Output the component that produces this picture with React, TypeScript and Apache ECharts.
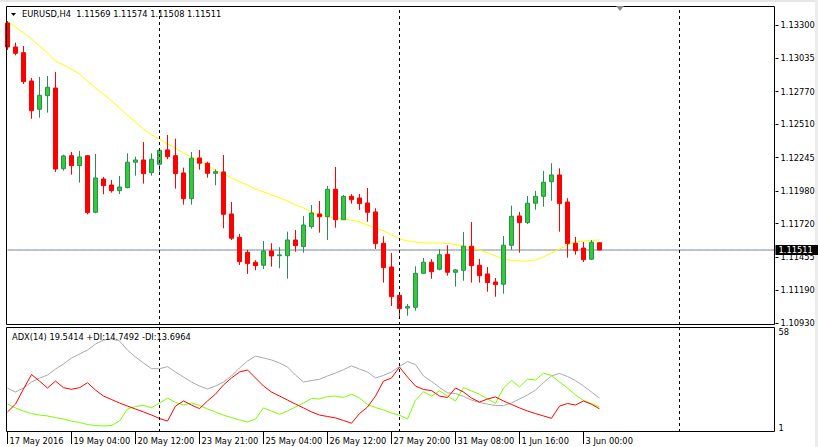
import React, { useEffect, useRef } from 'react';
import * as echarts from 'echarts';

const symbol = 'EURUSD';
const timeframe = 'H4';
const adxPeriod = 14;
const tickLabels = ['17 May 2016', '19 May 04:00', '20 May 12:00', '23 May 21:00', '25 May 04:00', '26 May 12:00', '27 May 20:00', '31 May 08:00', '1 Jun 16:00', '3 Jun 00:00'];
const barsPerTick = 8;
const totalSlots = 97;
const priceTicks = [1.133, 1.13035, 1.1277, 1.1251, 1.12245, 1.1198, 1.1172, 1.11455, 1.1119, 1.1093];
const adxTicks = [1, 58];
const separatorBars = [19, 49, 84];

const opens = [1.13316, 1.13125, 1.1308, 1.12855, 1.1263, 1.12738, 1.12799, 1.12158, 1.12261, 1.12182, 1.12261, 1.11811, 1.12076, 1.12028, 1.11983, 1.12007, 1.12209, 1.12227, 1.12126, 1.12193, 1.12307, 1.12261, 1.12124, 1.11919, 1.12243, 1.12201, 1.12121, 1.12132, 1.11798, 1.11612, 1.11493, 1.11414, 1.1139, 1.11504, 1.11466, 1.11466, 1.11591, 1.11538, 1.11697, 1.11798, 1.11776, 1.11994, 1.11752, 1.11938, 1.11925, 1.11885, 1.11814, 1.11565, 1.11376, 1.11151, 1.1105, 1.11056, 1.11326, 1.11414, 1.11358, 1.11477, 1.11334, 1.1135, 1.11541, 1.1139, 1.11321, 1.11257, 1.11239, 1.11549, 1.11782, 1.11729, 1.11883, 1.11938, 1.12054, 1.12108, 1.11893, 1.11565, 1.11527, 1.11438, 1.11569];
const highs = [1.13332, 1.1316, 1.13133, 1.12879, 1.12887, 1.12895, 1.12927, 1.12269, 1.12291, 1.12299, 1.12265, 1.12275, 1.12092, 1.12068, 1.121, 1.1228, 1.12253, 1.1237, 1.1228, 1.12317, 1.12426, 1.12396, 1.12166, 1.12291, 1.12307, 1.12213, 1.12153, 1.12267, 1.11893, 1.11639, 1.11512, 1.1143, 1.11583, 1.11565, 1.11533, 1.11657, 1.11671, 1.11782, 1.11869, 1.11901, 1.1202, 1.12171, 1.11949, 1.11955, 1.11957, 1.12004, 1.11843, 1.1162, 1.11488, 1.11155, 1.11082, 1.11382, 1.11448, 1.11438, 1.11517, 1.11549, 1.1136, 1.11655, 1.11734, 1.1144, 1.11376, 1.11289, 1.11623, 1.11864, 1.11814, 1.11941, 1.11981, 1.1214, 1.12201, 1.12161, 1.11923, 1.11615, 1.11575, 1.11591, 1.11574];
const lows = [1.13102, 1.13059, 1.12831, 1.12555, 1.12563, 1.12603, 1.12132, 1.12142, 1.1211, 1.12047, 1.11795, 1.11803, 1.11954, 1.11967, 1.11957, 1.12002, 1.12102, 1.12039, 1.12102, 1.12134, 1.12233, 1.11999, 1.11872, 1.11872, 1.1215, 1.12086, 1.12026, 1.11684, 1.11591, 1.11392, 1.11321, 1.1135, 1.1136, 1.11379, 1.11366, 1.11283, 1.11498, 1.1149, 1.11681, 1.11649, 1.11591, 1.11689, 1.1175, 1.1188, 1.1183, 1.11736, 1.11519, 1.11252, 1.11066, 1.10981, 1.10989, 1.11029, 1.11323, 1.11283, 1.1135, 1.11307, 1.1122, 1.11267, 1.11252, 1.11252, 1.1118, 1.1114, 1.11164, 1.11512, 1.1149, 1.11718, 1.11832, 1.11856, 1.11903, 1.11657, 1.1145, 1.11474, 1.11416, 1.11432, 1.11508];
const closes = [1.13125, 1.13075, 1.1285, 1.12619, 1.12741, 1.12805, 1.12155, 1.12259, 1.12182, 1.12251, 1.11808, 1.12084, 1.12023, 1.11983, 1.12012, 1.12209, 1.12227, 1.12118, 1.12233, 1.12304, 1.12253, 1.12118, 1.11919, 1.12241, 1.12201, 1.12121, 1.12134, 1.11795, 1.11605, 1.11418, 1.11403, 1.11387, 1.11504, 1.11464, 1.11472, 1.11591, 1.11546, 1.1171, 1.11806, 1.11776, 1.11994, 1.11752, 1.11938, 1.11911, 1.1188, 1.11811, 1.11562, 1.11371, 1.1114, 1.11045, 1.11061, 1.11326, 1.11414, 1.11339, 1.11474, 1.11334, 1.11353, 1.11541, 1.11387, 1.11307, 1.11252, 1.11236, 1.11549, 1.11779, 1.11729, 1.11883, 1.11938, 1.1205, 1.12108, 1.1188, 1.11562, 1.11506, 1.11434, 1.11573, 1.11511];
const movingAverage = [1.13328, 1.13284, 1.13237, 1.13189, 1.13133, 1.13078, 1.13014, 1.12982, 1.1295, 1.12911, 1.12855, 1.12799, 1.12752, 1.12696, 1.1264, 1.12581, 1.12529, 1.12473, 1.12426, 1.12394, 1.12354, 1.12322, 1.12283, 1.12251, 1.12219, 1.12187, 1.1214, 1.12116, 1.12084, 1.12052, 1.12028, 1.11996, 1.11973, 1.11949, 1.11925, 1.11901, 1.11869, 1.11845, 1.11814, 1.1179, 1.11774, 1.11766, 1.11758, 1.1175, 1.11734, 1.1171, 1.11686, 1.11663, 1.11631, 1.11599, 1.11583, 1.11575, 1.11567, 1.11567, 1.11567, 1.11563, 1.11555, 1.11543, 1.11527, 1.11512, 1.11488, 1.11464, 1.1144, 1.11428, 1.11424, 1.11424, 1.11432, 1.11456, 1.11488, 1.11519, 1.11551, 1.11575, 1.11583, 1.11587, 1.11591];
const adx = [25.1, 22.9, 25.1, 28.4, 30.6, 32.2, 35.5, 38.3, 41.6, 43.7, 45.9, 49.2, 51.4, 52.0, 50.9, 45.9, 42.1, 38.8, 35.7, 35.7, 36.8, 33.9, 31.1, 28.4, 26.2, 24.6, 26.2, 28.4, 31.7, 36.1, 39.9, 42.6, 41.6, 40.5, 38.8, 36.6, 32.2, 28.4, 29.2, 29.9, 31.7, 33.3, 35.2, 37.2, 35.5, 33.9, 30.6, 32.0, 33.9, 36.9, 39.6, 38.0, 31.7, 28.7, 25.4, 22.5, 22.1, 20.5, 18.5, 17.2, 16.3, 15.5, 15.5, 16.9, 19.1, 21.3, 24.0, 28.1, 31.7, 33.1, 31.4, 29.2, 26.2, 22.9, 19.5414];
const plusDI = [16.3, 14.2, 12.5, 11.1, 10.3, 9.8, 8.9, 8.1, 7.0, 6.2, 5.1, 4.5, 4.3, 4.6, 7.0, 13.6, 15.0, 15.6, 14.3, 16.9, 19.6, 17.2, 15.8, 16.9, 15.6, 13.6, 12.0, 10.2, 8.9, 7.6, 6.5, 8.1, 14.2, 12.5, 10.7, 12.5, 14.7, 16.9, 19.4, 19.1, 20.5, 20.7, 19.9, 21.7, 19.6, 16.1, 14.4, 13.1, 11.4, 10.2, 8.1, 18.5, 23.1, 20.7, 23.5, 20.7, 18.0, 25.3, 23.5, 21.7, 19.1, 16.7, 25.1, 29.3, 25.7, 30.0, 29.5, 33.2, 32.0, 28.4, 25.1, 21.3, 18.3, 16.6, 14.7492];
const minusDI = [12.0, 16.3, 24.6, 32.5, 28.9, 25.1, 28.9, 25.3, 24.4, 25.3, 28.0, 24.0, 20.7, 18.8, 16.9, 15.2, 13.6, 12.0, 10.3, 8.4, 7.0, 15.2, 18.0, 15.8, 13.8, 18.0, 21.8, 26.8, 30.6, 33.9, 35.0, 30.6, 26.2, 22.9, 20.7, 18.5, 16.3, 14.2, 12.0, 10.3, 9.5, 8.7, 7.3, 5.8, 11.1, 14.7, 20.7, 28.9, 30.6, 36.6, 31.1, 26.2, 24.3, 23.7, 20.7, 19.9, 25.1, 22.9, 19.6, 17.4, 19.1, 20.2, 18.0, 16.1, 14.2, 12.5, 11.1, 9.8, 8.5, 15.2, 16.6, 15.8, 18.0, 16.2, 13.6964];

export default function App() {
  const ref = useRef<HTMLDivElement>(null);
  useEffect(() => {
    const chart = echarts.init(ref.current as HTMLDivElement, null, { renderer: 'svg' });
    const font = 'DejaVu Sans';
    const fs = 8.3;
    const last = opens.length - 1;
    const lastPrice = closes[last];
    const categories = Array.from({ length: totalSlots }, (_, i) => String(i));
    const candles = opens.map((o, i) => [o, closes[i], lows[i], highs[i]]);
    const priceLine = categories.map(() => lastPrice);
    const header = `${symbol},${timeframe}\u00a0 ${[opens[last], highs[last], lows[last], closes[last]].map((v) => v.toFixed(5)).join(' ')}`;
    const adxHeader = `ADX(${adxPeriod}) ${adx[last].toFixed(4)} +DI:${plusDI[last].toFixed(4)} -DI:${minusDI[last].toFixed(4)}`;
    const isTick = (i: number) => i % barsPerTick === 0 && i / barsPerTick < tickLabels.length;
    const sepLines = separatorBars.map((b) => ({ xAxis: b }));
    const sepStyle = { color: '#000', type: [3, 3] as any, width: 1 };

    chart.setOption({
      animation: false,
      backgroundColor: '#fff',
      grid: [
        { left: 7.5, top: 6, width: 768, height: 319 },
        { left: 7.5, top: 328, width: 768, height: 104 },
      ],
      xAxis: [
        { type: 'category', gridIndex: 0, data: categories, boundaryGap: false, show: false },
        {
          type: 'category', gridIndex: 1, data: categories, boundaryGap: false,
          axisLine: { show: false },
          axisTick: { show: true, length: 12, interval: (i: number) => isTick(i), lineStyle: { color: '#000', width: 1 } },
          axisLabel: {
            interval: (i: number) => isTick(i),
            formatter: (_v: string, i: number) => (isTick(i) ? tickLabels[i / barsPerTick] : ''),
            align: 'left', verticalAlign: 'top', margin: 5, padding: [0, 0, 0, 2],
            color: '#000', fontFamily: font, fontSize: fs,
          },
          splitLine: { show: false },
        },
      ],
      yAxis: [
        {
          type: 'value', gridIndex: 0, position: 'right', min: 1.10915, max: 1.13451,
          splitLine: { show: false }, axisLine: { show: false },
          axisTick: { show: true, length: 3, customValues: priceTicks, lineStyle: { color: '#000' } },
          axisLabel: { customValues: priceTicks, formatter: (v: number) => v.toFixed(5), margin: 5, color: '#000', fontFamily: font, fontSize: fs },
        },
        {
          type: 'value', gridIndex: 1, position: 'right', min: 1, max: 58,
          splitLine: { show: false }, axisLine: { show: false }, axisTick: { show: false },
          axisLabel: {
            customValues: adxTicks, margin: 3, color: '#000', fontFamily: font, fontSize: fs,
            verticalAlignMinLabel: 'bottom', verticalAlignMaxLabel: 'top',
          },
        },
      ],
      series: [
        {
          type: 'line', xAxisIndex: 0, yAxisIndex: 0, data: priceLine, symbol: 'none', z: 1, silent: true,
          lineStyle: { color: '#778899', width: 1 },
          endLabel: {
            show: true, formatter: () => lastPrice.toFixed(5), distance: 0,
            color: '#fff', backgroundColor: '#000', padding: [1, 6, 1, 3], fontFamily: font, fontSize: fs,
          },
          z2: 100,
        },
        {
          type: 'candlestick', xAxisIndex: 0, yAxisIndex: 0, data: candles, barWidth: 4, clip: false, z: 3,
          itemStyle: { color: '#32cd32', borderColor: '#2e8b57', color0: '#ff0000', borderColor0: '#ff0000', borderWidth: 1 },
          markLine: {
            silent: true, symbol: 'none', animation: false,
            data: sepLines.map((d) => ({ ...d, lineStyle: sepStyle, label: { show: false } })),
          },
        },
        {
          type: 'line', xAxisIndex: 0, yAxisIndex: 0, data: movingAverage, symbol: 'none', z: 2,
          lineStyle: { color: '#ffff00', width: 1 },
        },
        {
          type: 'line', xAxisIndex: 1, yAxisIndex: 1, data: adx, symbol: 'none',
          lineStyle: { color: '#a9a9a9', width: 1 },
          markLine: {
            silent: true, symbol: 'none', animation: false,
            data: sepLines.map((d) => ({ ...d, lineStyle: sepStyle, label: { show: false } })),
          },
        },
        { type: 'line', xAxisIndex: 1, yAxisIndex: 1, data: plusDI, symbol: 'none', lineStyle: { color: '#7cfc00', width: 1 } },
        { type: 'line', xAxisIndex: 1, yAxisIndex: 1, data: minusDI, symbol: 'none', lineStyle: { color: '#ff0000', width: 1 } },
      ],
      graphic: [
        { type: 'rect', shape: { x: 0, y: 0, width: 818, height: 2 }, style: { fill: '#e6e6e6' }, silent: true },
        { type: 'rect', shape: { x: 815, y: 0, width: 3, height: 447 }, style: { fill: '#ececec' }, silent: true },
        { type: 'rect', shape: { x: 6.5, y: 6.5, width: 768, height: 318 }, style: { fill: 'none', stroke: '#000', lineWidth: 1 }, silent: true, z: 10 },
        { type: 'rect', shape: { x: 6.5, y: 327.5, width: 768, height: 104 }, style: { fill: 'none', stroke: '#000', lineWidth: 1 }, silent: true, z: 10 },
        { type: 'polygon', shape: { points: [[11, 13], [16, 13], [13.5, 16]] }, style: { fill: '#000' }, silent: true, z: 10 },
        { type: 'polygon', shape: { points: [[616, 6], [624, 6], [620, 11]] }, style: { fill: '#8c8c8c' }, silent: true, z: 10 },
        { type: 'text', x: 22, y: 14, style: { text: header, fill: '#000', font: `${fs}px "${font}"`, verticalAlign: 'middle' }, silent: true, z: 10 },
        { type: 'text', x: 12, y: 337, style: { text: adxHeader, fill: '#000', font: `${fs}px "${font}"`, verticalAlign: 'middle' }, silent: true, z: 10 },
      ],
    });
    return () => chart.dispose();
  }, []);
  return <div ref={ref} style={{ position: 'fixed', left: 0, top: 0, width: 818, height: 447, background: '#fff' }} />;
}
